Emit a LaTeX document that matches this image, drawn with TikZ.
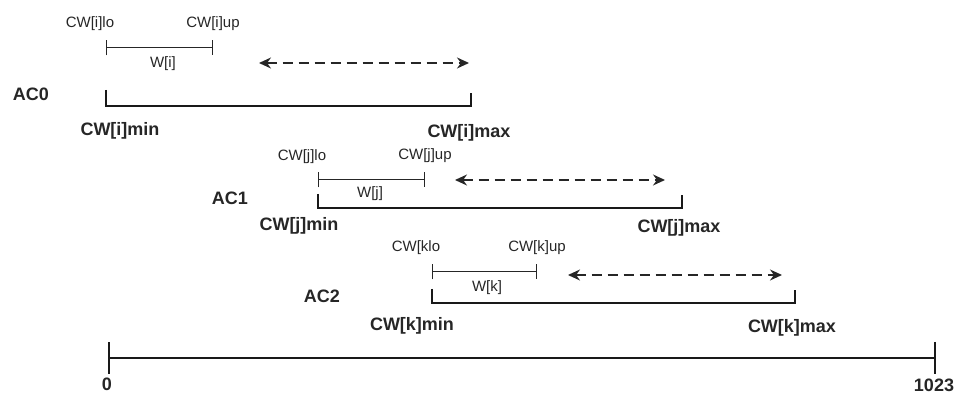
\documentclass[tikz,border=0pt]{standalone}
\usepackage{fontspec}
\setmainfont{Liberation Sans}
\usetikzlibrary{arrows.meta}

\begin{document}
\begin{tikzpicture}[x=1pt, y=-1pt, every node/.style={inner sep=0pt, text=black!85},
  small/.style={font=\fontsize{15}{15}\selectfont},
  big/.style={font=\fontsize{18}{18}\selectfont\bfseries},
  win/.style={draw=black!85, line width=1pt, {Bar[width=15pt]}-{Bar[width=15pt]}},
  rng/.style={draw=black!90, line width=1.8pt},
  shiftarrow/.style={draw=black!85, line width=1.4pt, dash pattern=on 10pt off 6pt, {Stealth[length=12pt,width=11pt]}-{Stealth[length=12pt,width=11pt]}}]
\useasboundingbox (0,0) rectangle (959,395);

\node[small] (ilo) at (90,24) {CW[i]lo};
\node[small] (iup) at (213,24) {CW[i]up};
\coordinate (wia) at (106,48);
\coordinate (wib) at (213,48);
\draw[win] (wia)--(wib);
\node[small] (wi) at (163,64) {W[i]};
\coordinate (sia) at (259,63);
\coordinate (sib) at (469,63);
\draw[shiftarrow] (sia)--(sib);
\node[big] (ac0) at (31,94) {AC0};
\coordinate (ia) at (106,90);
\coordinate (ib) at (106,106);
\coordinate (ic) at (471,106);
\coordinate (id) at (471,93);
\draw[rng] (ia)--(ib)--(ic)--(id);
\node[big] (imin) at (120,131) {CW[i]min};
\node[big] (imax) at (469,133) {CW[i]max};

\node[small] (jlo) at (302,157) {CW[j]lo};
\node[small] (jup) at (425,156) {CW[j]up};
\coordinate (wja) at (318,180);
\coordinate (wjb) at (425,180);
\draw[win] (wja)--(wjb);
\node[small] (wj) at (370,194) {W[j]};
\coordinate (sja) at (455,180);
\coordinate (sjb) at (665,180);
\draw[shiftarrow] (sja)--(sjb);
\node[big] (ac1) at (230,198) {AC1};
\coordinate (ja) at (318,194);
\coordinate (jb) at (318,208);
\coordinate (jc) at (682,208);
\coordinate (jd) at (682,195);
\draw[rng] (ja)--(jb)--(jc)--(jd);
\node[big] (jmin) at (299,226) {CW[j]min};
\node[big] (jmax) at (679,228) {CW[j]max};

\node[small] (klo) at (416,248) {CW[klo};
\node[small] (kup) at (537,248) {CW[k]up};
\coordinate (wka) at (432,272);
\coordinate (wkb) at (537,272);
\draw[win] (wka)--(wkb);
\node[small] (wk) at (487,288) {W[k]};
\coordinate (ska) at (568,275);
\coordinate (skb) at (782,275);
\draw[shiftarrow] (ska)--(skb);
\node[big] (ac2) at (322,296) {AC2};
\coordinate (ka) at (432,289);
\coordinate (kb) at (432,303);
\coordinate (kc) at (795,303);
\coordinate (kd) at (795,290);
\draw[rng] (ka)--(kb)--(kc)--(kd);
\node[big] (kmin) at (412,326) {CW[k]min};
\node[big] (kmax) at (792,328) {CW[k]max};

\coordinate (lo) at (108,358);
\coordinate (hi) at (936,358);
\draw[rng, {Bar[width=32pt]}-{Bar[width=32pt]}] (lo)--(hi);
\node[big] (zero) at (107,384) {0};
\node[big] (top) at (934,385) {1023};
\end{tikzpicture}
\end{document}
